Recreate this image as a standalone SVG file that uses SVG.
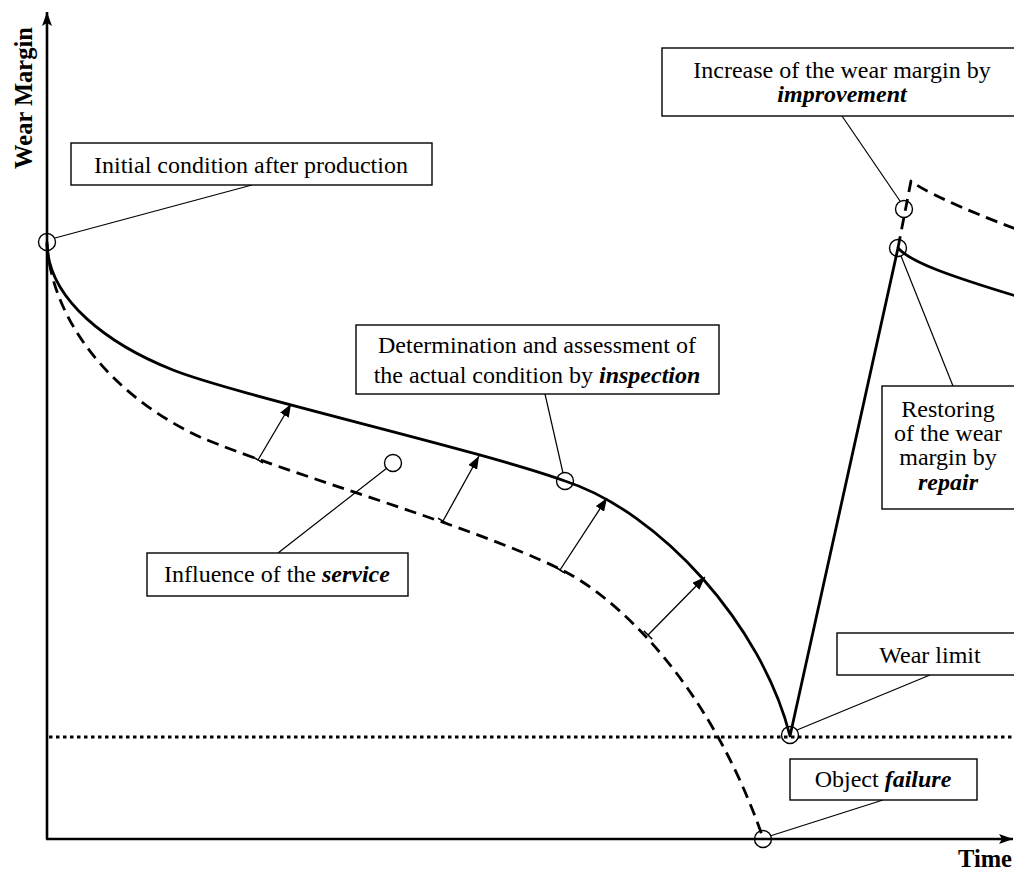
<svg xmlns="http://www.w3.org/2000/svg" width="1014" height="871" viewBox="0 0 1014 871">
  <style>
    text { font-family: "Liberation Serif", "DejaVu Serif", serif; font-size: 24px; fill: #000; }
    .axislabel { font-weight: bold; font-size: 24.5px; }
    .em { font-weight: bold; font-style: italic; }
    .box { fill: #fff; stroke: #000; stroke-width: 1.4; }
    .axis { fill: none; stroke: #000; stroke-width: 2.6; }
    .curve { fill: none; stroke: #000; stroke-width: 2.8; stroke-linejoin: round; }
    .dashed { stroke-dasharray: 12 7; }
    .limit { fill: none; stroke: #000; stroke-width: 3; stroke-dasharray: 3.5 3.5; }
    .leader { fill: none; stroke: #000; stroke-width: 1.2; }
    .mark { fill: none; stroke: #000; stroke-width: 1.4; }
    .push { fill: none; stroke: #000; stroke-width: 1.3; marker-start: url(#tee); marker-end: url(#head); }
  </style>
  <defs>
    <marker id="head" markerUnits="userSpaceOnUse" markerWidth="13" markerHeight="10" refX="13" refY="5" orient="auto">
      <path d="M0,0 L13,5 L0,10 z" fill="#000"/>
    </marker>
    <marker id="tee" markerUnits="userSpaceOnUse" markerWidth="4" markerHeight="12" refX="1" refY="6" orient="auto">
      <path d="M1,0 L1,12" stroke="#000" stroke-width="1.6"/>
    </marker>
    <marker id="axishead" markerUnits="userSpaceOnUse" markerWidth="14" markerHeight="10" refX="14" refY="5" orient="auto">
      <path d="M0,0 L14,5 L0,10 L3,5 z" fill="#000"/>
    </marker>
  </defs>

  <!-- axes -->
  <g id="axes">
    <path class="axis" d="M47,839 L47,12" marker-end="url(#axishead)"/>
    <path class="axis" d="M46,839 L1013,839" marker-end="url(#axishead)"/>
    <text class="axislabel" transform="translate(32,98) rotate(-90)" text-anchor="middle">Wear Margin</text>
    <text class="axislabel" x="1012" y="867" text-anchor="end">Time</text>
  </g>

  <!-- wear limit level -->
  <path class="limit" d="M49,737 L1014,737"/>

  <!-- wear margin curves -->
  <g id="curves">
    <path id="actual" class="curve" d="M47,242 C47,300 110,345 173,370 C236,395 480,450 565,481 C660,512 762,625 790,736 L898,248 C910,262 950,276 1016,296"/>
    <path id="no-maintenance" class="curve dashed" d="M47,244 C52,320 110,395 200,437 C290,475 470,525 560,569 C615,596 708,680 763,838"/>
    <path id="improved" class="curve dashed" d="M898,248 L911,181 C922,190 960,208 1016,229"/>
  </g>

  <!-- connectors: service influence arrows and callout leaders -->
  <g id="connectors">
    <path class="push" d="M258,460 L291,404"/>
    <path class="push" d="M443,521 L479,456"/>
    <path class="push" d="M560,570 L607,498"/>
    <path class="push" d="M648,635 L705,577"/>

    <path class="leader" d="M55,238 L252,185"/>
    <path class="leader" d="M387,468 L278,553"/>
    <path class="leader" d="M563,473 L545,394"/>
    <path class="leader" d="M900,201 L842,116"/>
    <path class="leader" d="M901,256 L953,386"/>
    <path class="leader" d="M797,730 L930,675"/>
    <path class="leader" d="M770,836 L883,800"/>
  </g>

  <!-- marked points -->
  <g id="points">
    <circle class="mark" cx="47" cy="242" r="8.5"/>
    <circle class="mark" cx="393" cy="463" r="8.5"/>
    <circle class="mark" cx="565" cy="481" r="8.5"/>
    <circle class="mark" cx="904" cy="209" r="8.5"/>
    <circle class="mark" cx="898" cy="248" r="8.5"/>
    <circle class="mark" cx="790" cy="735" r="8.5"/>
    <circle class="mark" cx="763" cy="839" r="8.5"/>
  </g>

  <!-- callout boxes -->
  <g id="initial">
    <rect class="box" x="71" y="143" width="361" height="42"/>
    <text x="251" y="173" text-anchor="middle">Initial condition after production</text>
  </g>
  <g id="improvement">
    <rect class="box" x="662" y="48" width="362" height="68"/>
    <text x="842" y="78" text-anchor="middle">Increase of the wear margin by</text>
    <text x="842" y="102" text-anchor="middle"><tspan class="em">improvement</tspan></text>
  </g>
  <g id="inspection">
    <rect class="box" x="356" y="325" width="363" height="69"/>
    <text x="537" y="353" text-anchor="middle">Determination and assessment of</text>
    <text x="537" y="383" text-anchor="middle">the actual condition by <tspan class="em">inspection</tspan></text>
  </g>
  <g id="service">
    <rect class="box" x="147" y="553" width="261" height="43"/>
    <text x="277" y="582" text-anchor="middle">Influence of the <tspan class="em">service</tspan></text>
  </g>
  <g id="repair">
    <rect class="box" x="882" y="386" width="140" height="123"/>
    <text x="948" y="417" text-anchor="middle">Restoring</text>
    <text x="948" y="441" text-anchor="middle">of the wear</text>
    <text x="948" y="465" text-anchor="middle">margin by</text>
    <text x="948" y="490" text-anchor="middle"><tspan class="em">repair</tspan></text>
  </g>
  <g id="wear-limit">
    <rect class="box" x="837" y="633" width="185" height="42"/>
    <text x="930" y="663" text-anchor="middle">Wear limit</text>
  </g>
  <g id="failure">
    <rect class="box" x="790" y="759" width="187" height="41"/>
    <text x="883" y="787" text-anchor="middle">Object <tspan class="em">failure</tspan></text>
  </g>
</svg>
